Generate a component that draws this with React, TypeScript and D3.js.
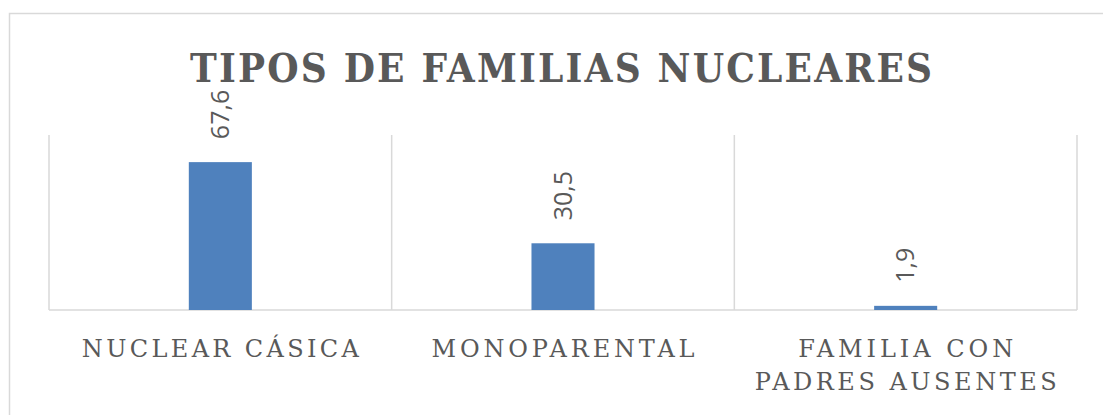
import React, { useEffect, useRef } from "react";
import * as d3 from "d3";

const categories = ["NUCLEAR CÁSICA", "MONOPARENTAL", "FAMILIA CON PADRES AUSENTES"];
const categoryLines = [["NUCLEAR CÁSICA"], ["MONOPARENTAL"], ["FAMILIA CON", "PADRES AUSENTES"]];
const values = [67.6, 30.5, 1.9];
const valueLabels = ["67,6", "30,5", "1,9"];
const title = "TIPOS DE FAMILIAS NUCLEARES";

const App: React.FC = () => {
  const chartRef = useRef<HTMLDivElement>(null);

  useEffect(() => {
    const width = 1103;
    const height = 415;
    const textColor = "#595959";
    const gridColor = "#d9d9d9";

    d3.select(chartRef.current).select("svg").remove();

    const svg = d3
      .select(chartRef.current)
      .append("svg")
      .attr("width", width)
      .attr("height", height)
      .style("display", "block");

    svg.append("rect").attr("width", width).attr("height", height).attr("fill", "#fff");

    // chart border (runs off right / bottom)
    svg
      .append("rect")
      .attr("x", 9.5)
      .attr("y", 13.5)
      .attr("width", width + 20)
      .attr("height", height + 20)
      .attr("fill", "none")
      .attr("stroke", "#d9d9d9")
      .attr("stroke-width", 1.5);

    // title
    svg
      .append("text")
      .attr("x", 190)
      .attr("y", 82)
      .attr("textLength", 742)
      .attr("lengthAdjust", "spacing")
      .style("font-family", "'DejaVu Serif Condensed', 'DejaVu Serif', serif")
      .style("font-stretch", "condensed")
      .style("font-weight", "bold")
      .style("font-size", "40px")
      .style("fill", textColor)
      .text(title);

    const x = d3.scaleBand<string>().domain(categories).range([49, 1077]).padding(0);
    const y = d3.scaleLinear().domain([0, 80]).range([310, 135]);
    const barW = x.bandwidth() * 0.184;

    // vertical separators
    const bounds = categories.map((c) => x(c) as number).concat([x.range()[1]]);
    svg
      .selectAll(".vgrid")
      .data(bounds)
      .enter()
      .append("line")
      .attr("x1", (d) => d)
      .attr("x2", (d) => d)
      .attr("y1", y(80))
      .attr("y2", y(0))
      .attr("stroke", gridColor)
      .attr("stroke-width", 1.5);

    svg
      .append("line")
      .attr("x1", x.range()[0])
      .attr("x2", x.range()[1])
      .attr("y1", y(0))
      .attr("y2", y(0))
      .attr("stroke", gridColor)
      .attr("stroke-width", 1.5);

    const g = svg
      .selectAll(".bar")
      .data(values)
      .enter()
      .append("g")
      .attr("class", "bar");

    g.append("rect")
      .attr("x", (d, i) => (x(categories[i]) as number) + x.bandwidth() / 2 - barW / 2)
      .attr("y", (d) => y(d))
      .attr("width", barW)
      .attr("height", (d) => y(0) - y(d))
      .attr("fill", "#4f81bd");

    g.append("text")
      .attr("transform", (d, i) => {
        const cx = (x(categories[i]) as number) + x.bandwidth() / 2;
        return `translate(${cx},${y(d) - 23}) rotate(-90)`;
      })
      .attr("dy", "0.35em")
      .style("font-family", "'Open Sans', sans-serif")
      .style("font-size", "25px")
      .style("fill", textColor)
      .text((d, i) => valueLabels[i]);

    // category labels
    const lineWidths: Record<string, number> = {
      "NUCLEAR CÁSICA": 277,
      MONOPARENTAL: 263,
      "FAMILIA CON": 215,
      "PADRES AUSENTES": 302,
    };
    categories.forEach((c, i) => {
      const cx = (x(c) as number) + x.bandwidth() / 2;
      categoryLines[i].forEach((line, j) => {
        svg
          .append("text")
          .attr("x", cx)
          .attr("y", 357 + j * 33)
          .attr("text-anchor", "middle")
          .attr("textLength", lineWidths[line])
          .attr("lengthAdjust", "spacing")
          .style("font-family", "'DejaVu Serif', serif")
          .style("font-size", "24px")
          .style("fill", textColor)
          .text(line);
      });
    });
  }, []);

  return <div ref={chartRef} style={{ position: "absolute", left: 0, top: 0 }}></div>;
};

export default App;
